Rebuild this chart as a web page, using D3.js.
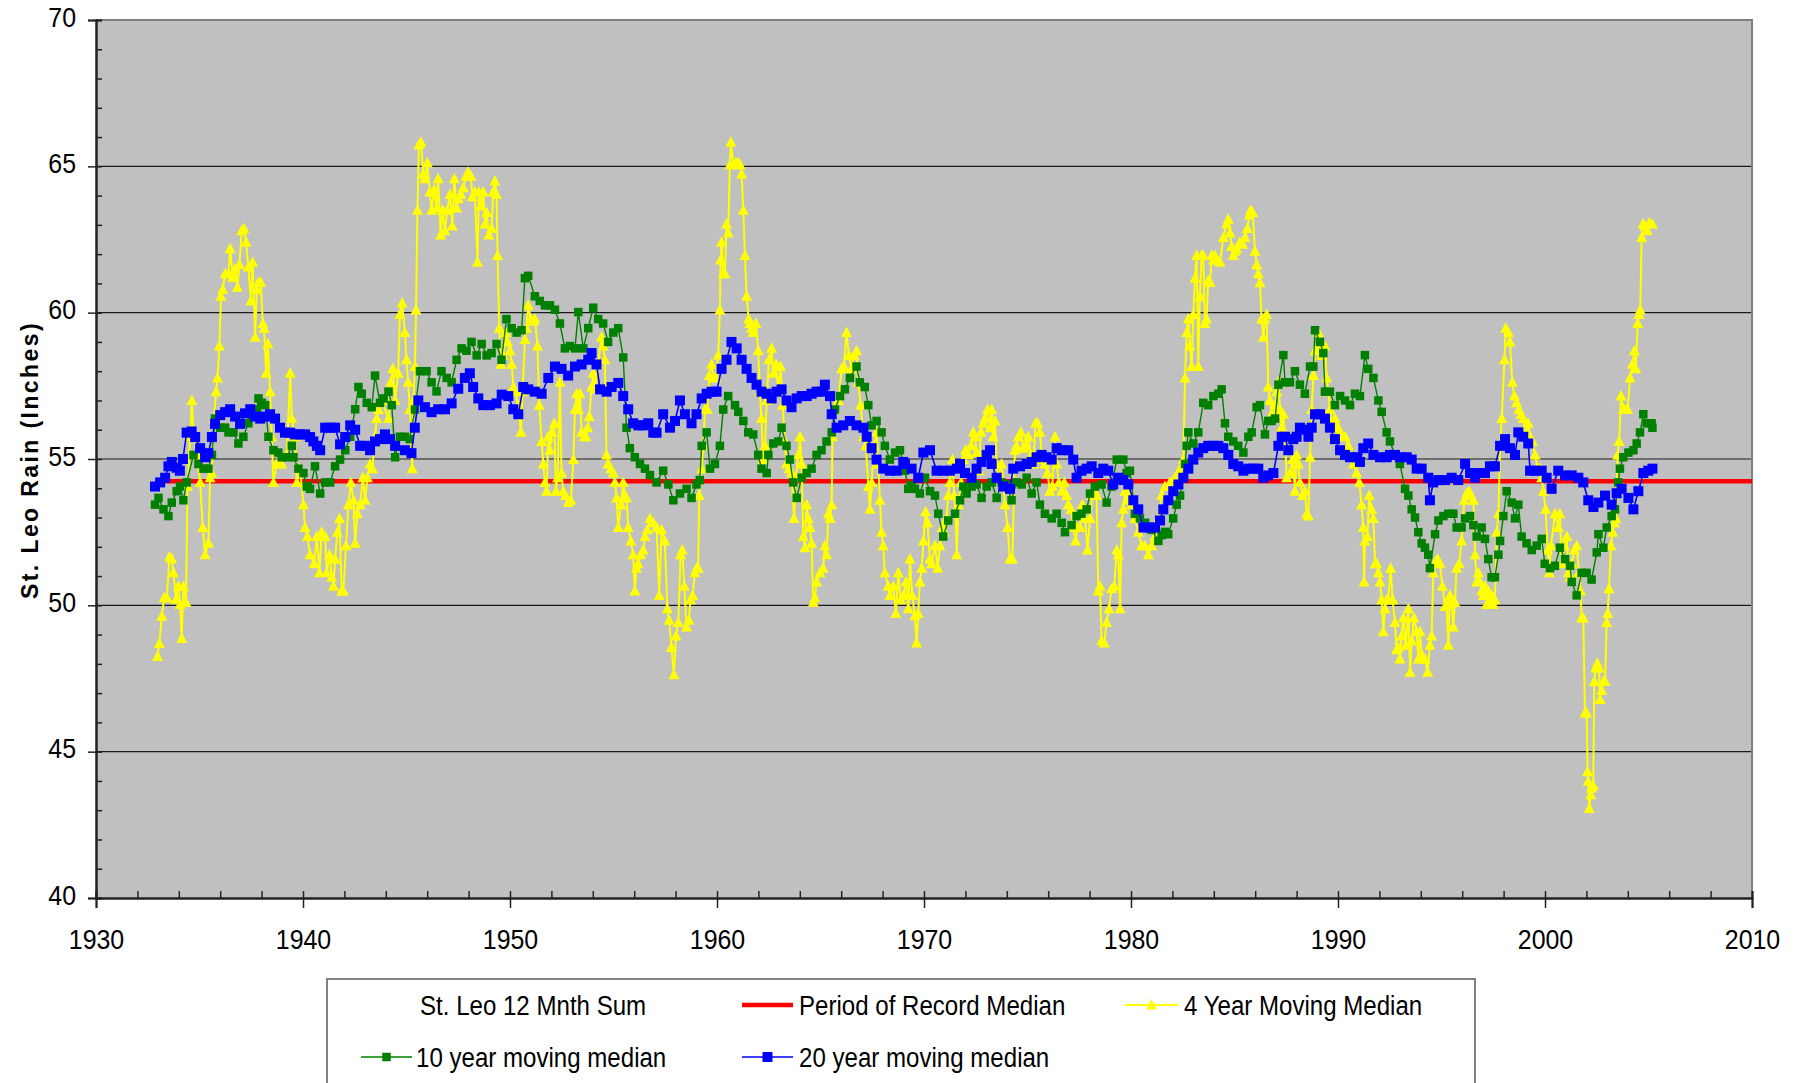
<!DOCTYPE html>
<html>
<head>
<meta charset="utf-8">
<script src="https://cdn.jsdelivr.net/npm/d3@7"></script>
<style>
  html, body { margin: 0; padding: 0; background: #ffffff; }
  svg { display: block; }
  .lbl { font-family: "Liberation Sans Narrow", "Arial Narrow", "Liberation Sans", Arial, sans-serif; fill: #000; }
</style>
</head>
<body>
<svg id="chart" width="1797" height="1083"></svg>
<script>
// ---- data -------------------------------------------------------------
const yearTicks = [1930, 1940, 1950, 1960, 1970, 1980, 1990, 2000, 2010];
const rainTicks = [40, 45, 50, 55, 60, 65, 70];
const yTitle = "St. Leo Rain  (Inches)";

// Period of record median of the 12-month rainfall sum
const recordMedian = 54.24;
const recordSpan = [1932.85, 2010];

// 4 year moving median  [year, inches]
const fourYear = [
[1932.97,48.25],[1933.06,48.7],[1933.18,49.63],[1933.29,50.26],[1933.42,50.26],[1933.55,51.66],[1933.66,51.58],[1933.74,51.11],[1933.87,50.2],[1933.98,50.65],[1934.06,50.03],[1934.14,48.87],[1934.22,50.65],[1934.35,50.1],[1934.42,54.06],[1934.55,55.76],[1934.63,57.0],[1934.71,55.9],[1934.87,55.14],[1935.03,54.2],[1935.16,52.66],[1935.27,51.73],[1935.43,52.12],[1935.51,54.36],[1935.59,54.52],[1935.7,56.38],[1935.8,57.3],[1935.87,57.77],[1935.96,58.86],[1936.04,60.56],[1936.12,60.79],[1936.24,61.33],[1936.4,61.33],[1936.48,62.18],[1936.61,61.2],[1936.72,61.49],[1936.83,60.87],[1936.93,61.65],[1937.04,62.8],[1937.15,62.88],[1937.25,62.41],[1937.36,61.56],[1937.48,60.4],[1937.57,61.72],[1937.69,59.16],[1937.77,60.79],[1937.85,61.03],[1937.96,61.03],[1938.06,59.63],[1938.12,59.47],[1938.22,57.93],[1938.3,58.94],[1938.41,57.3],[1938.49,55.76],[1938.57,54.2],[1938.73,54.83],[1938.97,54.83],[1939.22,55.14],[1939.38,57.93],[1939.46,56.38],[1939.62,55.76],[1939.7,54.2],[1939.86,54.67],[1940.02,53.44],[1940.1,52.66],[1940.21,52.35],[1940.34,51.73],[1940.54,51.42],[1940.67,52.35],[1940.79,51.11],[1940.9,52.5],[1941.07,52.35],[1941.15,51.11],[1941.28,51.73],[1941.39,50.96],[1941.47,50.65],[1941.55,51.58],[1941.66,52.5],[1941.76,52.97],[1941.87,50.49],[1941.95,50.49],[1942.08,52.04],[1942.19,53.44],[1942.31,54.2],[1942.44,53.59],[1942.52,52.12],[1942.63,53.13],[1942.76,53.44],[1942.89,54.36],[1943.0,53.59],[1943.11,54.36],[1943.24,54.83],[1943.35,54.67],[1943.48,55.76],[1943.56,56.38],[1943.64,56.69],[1943.8,57.0],[1944.13,56.38],[1944.24,57.62],[1944.34,58.08],[1944.45,57.0],[1944.6,57.93],[1944.68,59.94],[1944.79,60.33],[1944.92,59.32],[1945.0,58.39],[1945.08,57.62],[1945.16,56.69],[1945.28,54.67],[1945.33,57.0],[1945.41,58.16],[1945.46,60.09],[1945.53,63.5],[1945.6,65.74],[1945.7,65.82],[1945.81,64.74],[1945.89,64.58],[1946.0,65.12],[1946.13,64.12],[1946.21,63.5],[1946.34,64.2],[1946.45,63.58],[1946.53,64.58],[1946.65,62.65],[1946.74,63.5],[1946.86,62.8],[1946.97,63.5],[1947.1,64.04],[1947.21,62.96],[1947.31,64.58],[1947.42,63.58],[1947.5,63.89],[1947.63,64.04],[1947.74,64.27],[1947.87,64.66],[1947.98,64.81],[1948.11,64.66],[1948.18,63.96],[1948.3,64.12],[1948.43,61.72],[1948.5,64.12],[1948.59,63.65],[1948.71,64.12],[1948.79,63.03],[1948.87,63.42],[1948.98,62.65],[1949.11,62.88],[1949.19,64.12],[1949.27,64.5],[1949.35,64.04],[1949.4,61.95],[1949.48,59.47],[1949.56,58.24],[1949.67,58.54],[1949.79,59.32],[1949.88,59.0],[1950.0,58.7],[1950.08,58.24],[1950.16,57.46],[1950.24,57.3],[1950.4,56.84],[1950.53,55.91],[1950.61,57.3],[1950.72,59.08],[1950.8,59.47],[1950.88,60.25],[1951.01,59.78],[1951.12,59.71],[1951.2,59.78],[1951.33,58.86],[1951.41,56.84],[1951.53,55.6],[1951.61,54.83],[1951.69,54.2],[1951.77,53.9],[1951.85,55.76],[1951.93,55.3],[1952.01,55.91],[1952.14,56.22],[1952.22,53.9],[1952.3,54.36],[1952.41,57.62],[1952.49,54.52],[1952.57,53.9],[1952.68,53.75],[1952.81,53.51],[1952.94,53.59],[1953.06,54.98],[1953.14,56.69],[1953.22,57.23],[1953.3,56.69],[1953.38,57.23],[1953.46,55.91],[1953.59,55.76],[1953.67,55.76],[1953.75,56.07],[1953.83,56.45],[1953.94,57.46],[1954.02,57.93],[1954.1,57.38],[1954.26,58.24],[1954.42,59.16],[1954.5,58.86],[1954.58,58.39],[1954.66,55.14],[1954.74,54.83],[1954.87,54.67],[1954.99,54.52],[1955.07,54.2],[1955.15,53.67],[1955.23,52.66],[1955.36,53.44],[1955.47,54.2],[1955.55,53.75],[1955.63,53.67],[1955.71,52.66],[1955.84,52.2],[1955.95,51.73],[1956.03,50.49],[1956.11,51.27],[1956.19,51.42],[1956.32,51.73],[1956.44,51.89],[1956.52,52.35],[1956.63,52.58],[1956.76,52.97],[1956.92,52.82],[1957.08,52.66],[1957.21,50.34],[1957.32,52.58],[1957.48,52.2],[1957.6,49.88],[1957.69,49.49],[1957.8,48.56],[1957.92,47.63],[1958.02,48.95],[1958.13,49.41],[1958.24,51.73],[1958.32,51.89],[1958.42,50.65],[1958.53,49.26],[1958.64,49.49],[1958.72,50.19],[1958.82,50.34],[1958.93,51.11],[1959.01,51.27],[1959.09,51.27],[1959.14,53.75],[1959.26,54.67],[1959.34,55.45],[1959.42,56.69],[1959.53,56.69],[1959.63,57.85],[1959.74,58.24],[1959.85,57.77],[1959.95,57.77],[1960.06,58.55],[1960.14,60.09],[1960.17,61.8],[1960.22,62.41],[1960.3,61.33],[1960.38,61.33],[1960.46,63.03],[1960.54,62.72],[1960.62,65.05],[1960.67,65.82],[1960.79,65.05],[1960.91,65.12],[1961.03,65.12],[1961.11,65.05],[1961.19,64.74],[1961.27,63.5],[1961.35,61.95],[1961.43,60.56],[1961.53,59.78],[1961.59,59.63],[1961.67,59.47],[1961.75,59.32],[1961.88,59.63],[1961.99,58.7],[1962.07,57.3],[1962.15,56.38],[1962.23,54.98],[1962.32,55.45],[1962.4,57.0],[1962.51,58.39],[1962.64,58.78],[1962.72,57.93],[1962.85,58.24],[1962.96,57.3],[1963.07,58.16],[1963.17,56.84],[1963.28,55.6],[1963.36,54.83],[1963.49,54.67],[1963.6,54.52],[1963.72,52.97],[1963.81,54.36],[1963.93,55.14],[1964.01,55.76],[1964.09,54.83],[1964.17,52.35],[1964.25,51.97],[1964.33,53.44],[1964.41,52.97],[1964.49,52.66],[1964.57,52.12],[1964.65,50.1],[1964.73,50.26],[1964.81,50.8],[1964.97,51.11],[1965.13,51.27],[1965.21,52.04],[1965.3,51.73],[1965.38,53.13],[1965.46,52.97],[1965.54,53.44],[1965.58,55.76],[1965.7,56.69],[1965.86,57.0],[1966.02,58.08],[1966.13,58.16],[1966.26,59.32],[1966.37,58.54],[1966.5,58.08],[1966.62,58.54],[1966.74,58.7],[1966.82,57.62],[1966.94,56.84],[1967.07,55.76],[1967.19,55.45],[1967.31,54.06],[1967.39,53.28],[1967.47,54.2],[1967.58,55.45],[1967.71,55.91],[1967.79,54.83],[1967.87,53.59],[1967.95,52.5],[1968.03,52.04],[1968.11,51.11],[1968.27,50.65],[1968.35,50.34],[1968.52,50.65],[1968.64,49.72],[1968.76,51.11],[1968.87,50.19],[1969.0,50.34],[1969.13,50.8],[1969.24,49.88],[1969.32,51.58],[1969.43,50.34],[1969.56,49.64],[1969.64,48.71],[1969.72,49.72],[1969.8,50.8],[1969.89,51.27],[1969.97,52.2],[1970.08,53.2],[1970.17,52.82],[1970.29,51.58],[1970.37,51.42],[1970.53,52.04],[1970.66,51.27],[1970.77,52.04],[1970.88,52.66],[1970.98,52.5],[1971.09,52.97],[1971.17,53.75],[1971.25,54.2],[1971.37,54.98],[1971.46,53.75],[1971.53,53.13],[1971.58,51.73],[1971.66,53.44],[1971.79,54.2],[1971.9,54.98],[1972.01,55.3],[1972.14,55.14],[1972.27,55.45],[1972.38,55.91],[1972.46,55.76],[1972.54,55.22],[1972.65,54.6],[1972.75,55.91],[1972.86,56.22],[1972.94,56.38],[1973.07,56.69],[1973.19,56.07],[1973.27,56.69],[1973.35,55.76],[1973.43,56.3],[1973.51,54.83],[1973.59,54.36],[1973.75,54.83],[1973.83,54.2],[1973.91,53.44],[1974.04,52.66],[1974.15,51.58],[1974.27,51.58],[1974.39,55.3],[1974.47,55.45],[1974.56,55.76],[1974.68,55.91],[1974.8,55.37],[1974.91,55.45],[1975.04,55.76],[1975.17,55.14],[1975.28,54.83],[1975.39,56.22],[1975.49,56.22],[1975.6,55.91],[1975.71,54.98],[1975.84,54.83],[1975.97,54.52],[1976.08,53.9],[1976.2,54.06],[1976.33,55.76],[1976.41,54.83],[1976.52,54.2],[1976.65,53.9],[1976.78,54.2],[1976.89,53.75],[1976.97,53.44],[1977.1,53.28],[1977.21,52.66],[1977.32,52.2],[1977.42,52.66],[1977.53,52.66],[1977.65,53.44],[1977.78,52.97],[1977.9,51.89],[1978.02,52.97],[1978.13,53.75],[1978.26,53.9],[1978.34,53.75],[1978.42,50.49],[1978.5,50.65],[1978.58,48.79],[1978.71,48.71],[1978.82,49.41],[1978.94,49.88],[1979.06,50.57],[1979.19,50.65],[1979.31,51.89],[1979.39,51.73],[1979.47,49.88],[1979.55,52.82],[1979.63,53.28],[1979.71,53.9],[1979.79,53.59],[1979.87,53.9],[1980.03,53.44],[1980.19,52.97],[1980.35,52.5],[1980.51,52.04],[1980.67,52.04],[1980.84,51.73],[1981.0,52.04],[1981.16,52.35],[1981.32,52.97],[1981.48,53.75],[1981.64,54.06],[1981.88,54.2],[1982.12,54.36],[1982.37,54.67],[1982.53,54.98],[1982.61,57.77],[1982.69,59.32],[1982.77,59.78],[1982.85,58.86],[1982.93,58.16],[1983.01,59.94],[1983.09,61.18],[1983.17,61.95],[1983.25,58.16],[1983.33,60.56],[1983.41,61.95],[1983.49,61.95],[1983.57,59.63],[1983.65,59.78],[1983.73,61.1],[1983.82,61.03],[1983.9,61.95],[1983.98,61.8],[1984.06,61.95],[1984.14,61.8],[1984.3,61.72],[1984.46,62.57],[1984.62,63.03],[1984.7,63.19],[1984.78,62.72],[1984.86,62.26],[1984.94,61.95],[1985.02,62.1],[1985.1,62.18],[1985.26,62.41],[1985.39,62.34],[1985.51,62.57],[1985.62,62.88],[1985.72,63.34],[1985.78,63.5],[1985.88,63.42],[1985.99,62.1],[1986.07,61.64],[1986.15,61.33],[1986.23,61.02],[1986.31,59.78],[1986.39,59.16],[1986.47,59.78],[1986.55,59.94],[1986.63,57.46],[1986.71,57.0],[1986.79,56.53],[1986.88,56.38],[1986.96,56.84],[1987.04,57.3],[1987.12,57.62],[1987.2,56.69],[1987.28,56.07],[1987.36,56.53],[1987.44,55.76],[1987.52,54.36],[1987.68,54.52],[1987.81,54.98],[1987.92,53.9],[1988.0,55.14],[1988.08,54.83],[1988.16,54.2],[1988.29,53.75],[1988.4,53.9],[1988.49,53.13],[1988.57,53.05],[1988.65,55.06],[1988.73,56.69],[1988.81,57.85],[1988.89,58.7],[1988.97,58.78],[1989.05,59.32],[1989.13,59.0],[1989.21,58.54],[1989.37,58.86],[1989.45,57.77],[1989.53,57.3],[1989.61,56.69],[1989.69,56.07],[1989.77,55.76],[1989.85,56.38],[1989.93,56.07],[1990.01,56.07],[1990.1,55.91],[1990.18,55.76],[1990.34,55.76],[1990.5,55.45],[1990.58,55.14],[1990.74,54.83],[1990.9,54.52],[1991.03,54.2],[1991.14,53.44],[1991.22,52.66],[1991.26,50.8],[1991.3,52.2],[1991.42,52.35],[1991.51,53.75],[1991.62,53.28],[1991.71,52.97],[1991.79,51.42],[1991.87,51.42],[1991.95,51.11],[1992.03,50.8],[1992.11,50.19],[1992.19,49.1],[1992.27,49.88],[1992.35,50.19],[1992.43,50.19],[1992.54,51.27],[1992.64,50.19],[1992.75,49.41],[1992.83,48.48],[1992.91,48.56],[1992.99,48.17],[1993.07,48.95],[1993.16,49.57],[1993.28,48.64],[1993.4,49.88],[1993.48,47.71],[1993.56,48.79],[1993.67,49.57],[1993.8,49.1],[1993.88,48.17],[1993.96,49.1],[1994.04,48.33],[1994.12,48.17],[1994.2,48.17],[1994.33,47.71],[1994.44,48.64],[1994.52,48.95],[1994.61,51.11],[1994.72,51.5],[1994.81,51.58],[1994.93,51.42],[1995.04,50.65],[1995.17,49.96],[1995.25,50.03],[1995.33,48.64],[1995.41,50.34],[1995.49,50.19],[1995.57,49.26],[1995.65,50.1],[1995.73,51.27],[1995.85,51.42],[1995.97,52.2],[1996.1,53.59],[1996.22,53.83],[1996.33,53.9],[1996.43,53.75],[1996.54,53.59],[1996.62,51.73],[1996.7,50.8],[1996.78,51.11],[1996.86,50.8],[1996.94,50.49],[1997.02,50.34],[1997.1,50.65],[1997.18,50.03],[1997.26,50.49],[1997.34,50.19],[1997.42,50.34],[1997.5,50.03],[1997.58,50.19],[1997.67,52.5],[1997.75,53.13],[1997.83,55.45],[1997.91,56.38],[1998.04,58.39],[1998.1,59.47],[1998.23,59.32],[1998.31,59.0],[1998.42,57.62],[1998.52,57.15],[1998.63,56.92],[1998.74,56.69],[1998.84,56.53],[1998.95,56.38],[1999.07,55.76],[1999.19,56.22],[1999.28,55.76],[1999.39,55.6],[1999.52,55.14],[1999.65,54.67],[1999.76,54.67],[1999.84,54.36],[1999.92,53.9],[2000.03,53.28],[2000.13,51.89],[2000.21,51.11],[2000.29,52.04],[2000.48,53.13],[2000.64,52.66],[2000.72,53.13],[2000.8,51.42],[2000.93,52.04],[2001.05,52.35],[2001.13,51.11],[2001.21,50.96],[2001.29,51.42],[2001.42,51.89],[2001.53,52.04],[2001.64,51.11],[2001.72,50.49],[2001.77,49.57],[2001.85,49.57],[2001.93,46.32],[2002.01,46.32],[2002.06,44.31],[2002.09,43.99],[2002.14,43.06],[2002.21,43.53],[2002.25,43.76],[2002.33,43.84],[2002.38,47.4],[2002.45,47.86],[2002.53,48.02],[2002.61,47.86],[2002.66,46.78],[2002.74,47.09],[2002.82,47.4],[2002.9,47.4],[2002.98,49.41],[2003.03,49.72],[2003.09,50.57],[2003.19,52.04],[2003.27,52.5],[2003.35,52.82],[2003.43,52.97],[2003.51,55.14],[2003.58,55.6],[2003.67,57.15],[2003.79,56.69],[2003.9,56.69],[2003.99,56.69],[2004.11,57.77],[2004.22,58.24],[2004.32,58.7],[2004.38,58.08],[2004.48,59.63],[2004.54,59.94],[2004.6,60.09],[2004.67,62.57],[2004.73,63.03],[2004.83,62.96],[2004.94,62.8],[2005.04,63.06],[2005.19,63.03]
];

// 10 year moving median  [year, inches]
const tenYear = [
[1932.85,53.44],[1933.02,53.67],[1933.26,53.28],[1933.5,53.05],[1933.66,53.51],[1933.9,53.9],[1934.06,54.06],[1934.22,53.59],[1934.38,54.2],[1934.71,55.14],[1934.95,54.83],[1935.19,54.67],[1935.43,54.67],[1935.6,55.14],[1935.75,56.38],[1936.0,56.07],[1936.24,56.07],[1936.4,55.91],[1936.64,55.91],[1936.88,55.53],[1937.12,55.76],[1937.36,56.22],[1937.53,56.45],[1937.77,56.7],[1937.85,57.07],[1938.01,56.92],[1938.17,56.84],[1938.33,55.76],[1938.57,55.3],[1938.81,55.22],[1938.97,55.06],[1939.22,55.06],[1939.46,55.45],[1939.54,55.06],[1939.78,54.67],[1940.02,54.52],[1940.18,54.06],[1940.34,53.98],[1940.58,54.75],[1940.83,53.82],[1941.07,54.2],[1941.31,54.2],[1941.55,54.75],[1941.79,54.98],[1942.04,55.3],[1942.28,55.76],[1942.52,56.7],[1942.68,57.46],[1942.84,57.23],[1943.08,56.92],[1943.32,56.77],[1943.48,57.85],[1943.72,56.92],[1943.89,57.07],[1944.13,57.3],[1944.29,56.84],[1944.45,55.06],[1944.68,55.76],[1944.92,55.76],[1945.16,55.68],[1945.41,56.69],[1945.65,58.0],[1945.97,58.0],[1946.21,57.62],[1946.45,57.31],[1946.69,58.0],[1946.94,57.77],[1947.18,57.62],[1947.42,58.39],[1947.66,58.78],[1947.9,58.7],[1948.14,59.0],[1948.39,58.54],[1948.63,58.93],[1948.87,58.54],[1949.11,58.62],[1949.35,58.93],[1949.59,58.39],[1949.83,59.78],[1950.08,59.47],[1950.32,59.32],[1950.56,59.4],[1950.72,61.18],[1950.88,61.26],[1951.2,60.56],[1951.44,60.4],[1951.69,60.25],[1951.93,60.25],[1952.17,60.1],[1952.41,59.63],[1952.65,58.78],[1952.89,58.86],[1953.14,58.78],[1953.3,60.02],[1953.54,58.78],[1953.78,59.47],[1954.02,60.17],[1954.26,59.78],[1954.5,59.63],[1954.74,59.0],[1954.99,59.32],[1955.23,59.47],[1955.47,58.47],[1955.63,56.07],[1955.79,55.37],[1956.03,55.06],[1956.28,54.83],[1956.52,54.67],[1956.76,54.45],[1957.08,54.2],[1957.4,54.6],[1957.65,54.13],[1957.89,53.59],[1958.21,53.82],[1958.53,53.98],[1958.77,53.67],[1959.01,54.13],[1959.17,54.28],[1959.26,55.45],[1959.5,55.91],[1959.66,54.67],[1959.9,54.83],[1960.14,55.45],[1960.3,56.69],[1960.54,57.15],[1960.87,56.84],[1961.03,56.61],[1961.27,56.3],[1961.51,55.91],[1961.75,55.84],[1961.99,55.14],[1962.15,54.67],[1962.4,54.52],[1962.48,55.14],[1962.72,55.53],[1962.96,55.6],[1963.12,56.07],[1963.36,55.45],[1963.52,54.98],[1963.68,54.2],[1963.85,53.67],[1964.09,54.36],[1964.33,54.52],[1964.57,54.67],[1964.81,55.14],[1965.05,55.3],[1965.29,55.6],[1965.54,55.91],[1965.7,56.69],[1965.94,57.15],[1966.18,57.38],[1966.42,57.77],[1966.74,58.16],[1966.9,57.62],[1967.14,57.46],[1967.31,56.84],[1967.47,56.15],[1967.71,56.3],[1967.95,55.91],[1968.11,55.45],[1968.35,54.98],[1968.6,55.22],[1968.84,55.3],[1969.08,54.6],[1969.24,53.98],[1969.4,54.1],[1969.56,53.98],[1969.8,53.82],[1970.05,54.36],[1970.29,53.9],[1970.53,53.75],[1970.69,53.13],[1970.93,52.35],[1971.17,52.9],[1971.5,53.13],[1971.74,53.59],[1971.9,54.06],[1972.06,53.82],[1972.3,54.06],[1972.54,54.13],[1972.78,53.67],[1973.03,54.06],[1973.27,54.2],[1973.51,53.67],[1973.75,54.2],[1973.99,54.13],[1974.23,53.59],[1974.47,54.2],[1974.72,54.13],[1974.96,54.36],[1975.2,53.82],[1975.44,54.2],[1975.6,53.44],[1975.84,53.13],[1976.17,52.97],[1976.41,53.13],[1976.65,52.82],[1976.81,52.5],[1977.13,52.74],[1977.37,53.05],[1977.61,53.13],[1977.86,53.28],[1978.02,53.82],[1978.26,54.06],[1978.58,54.13],[1978.82,53.51],[1979.06,54.06],[1979.31,54.98],[1979.63,54.98],[1979.79,54.52],[1979.95,54.6],[1980.19,53.13],[1980.43,52.97],[1980.68,52.82],[1981.0,52.58],[1981.32,52.2],[1981.48,52.4],[1981.64,52.51],[1981.8,52.43],[1982.04,52.97],[1982.21,53.44],[1982.37,53.75],[1982.61,54.83],[1982.69,55.45],[1982.77,55.91],[1983.01,55.53],[1983.25,55.91],[1983.49,56.92],[1983.73,56.84],[1983.98,57.15],[1984.22,57.23],[1984.38,57.38],[1984.54,56.22],[1984.7,55.76],[1984.94,55.6],[1985.18,55.45],[1985.43,55.22],[1985.67,55.76],[1985.83,55.91],[1986.07,56.77],[1986.23,56.84],[1986.47,55.84],[1986.63,56.3],[1986.79,56.3],[1986.96,56.38],[1987.12,57.54],[1987.36,58.55],[1987.44,57.62],[1987.68,57.62],[1987.92,58.0],[1988.16,57.54],[1988.4,57.23],[1988.65,58.16],[1988.81,58.16],[1988.89,59.4],[1989.13,59.0],[1989.29,58.62],[1989.37,57.3],[1989.61,57.3],[1989.85,56.84],[1990.1,57.15],[1990.34,57.0],[1990.58,56.84],[1990.82,57.23],[1991.06,57.15],[1991.3,58.55],[1991.46,58.08],[1991.71,57.77],[1991.95,57.0],[1992.11,56.61],[1992.35,55.91],[1992.51,55.6],[1992.75,55.14],[1992.99,54.83],[1993.24,53.98],[1993.4,53.75],[1993.56,53.28],[1993.72,53.0],[1993.88,52.5],[1994.04,52.12],[1994.2,51.97],[1994.36,51.73],[1994.44,51.27],[1994.69,52.43],[1994.85,52.9],[1995.09,53.05],[1995.33,53.13],[1995.57,53.13],[1995.73,52.66],[1995.97,52.66],[1996.14,52.97],[1996.38,53.05],[1996.54,52.74],[1996.7,52.35],[1996.94,52.66],[1997.1,52.27],[1997.26,51.58],[1997.42,50.96],[1997.58,50.96],[1997.75,51.73],[1997.83,52.2],[1997.99,53.05],[1998.15,53.9],[1998.39,53.51],[1998.55,52.97],[1998.71,53.44],[1998.87,52.35],[1999.11,52.12],[1999.36,51.89],[1999.6,52.04],[1999.84,52.27],[1999.99,51.42],[2000.24,51.27],[2000.48,51.35],[2000.72,51.97],[2000.97,51.58],[2001.21,51.35],[2001.29,50.8],[2001.53,50.34],[2001.77,51.11],[2002.01,51.11],[2002.25,50.88],[2002.5,51.81],[2002.58,52.43],[2002.82,51.97],[2002.98,52.66],[2003.22,53.05],[2003.38,53.28],[2003.54,54.2],[2003.62,54.67],[2003.78,55.06],[2004.03,55.22],[2004.27,55.3],[2004.43,55.53],[2004.59,55.91],[2004.75,56.53],[2004.91,56.22],[2005.15,56.22],[2005.19,56.07]
];

// 20 year moving median  [year, inches]
const twentyYear = [
[1932.85,54.06],[1933.1,54.2],[1933.34,54.36],[1933.5,54.75],[1933.66,54.9],[1933.9,54.7],[1934.05,54.6],[1934.2,55.0],[1934.38,55.9],[1934.62,55.94],[1934.79,55.75],[1935.03,55.37],[1935.27,55.06],[1935.43,55.2],[1935.6,55.75],[1935.75,56.2],[1936.0,56.5],[1936.24,56.6],[1936.48,56.7],[1936.72,56.45],[1936.96,56.2],[1937.2,56.56],[1937.45,56.7],[1937.69,56.45],[1937.93,56.38],[1938.17,56.45],[1938.41,56.53],[1938.65,56.38],[1938.89,56.07],[1939.13,55.9],[1939.38,55.9],[1939.62,55.84],[1939.86,55.84],[1940.1,55.84],[1940.34,55.75],[1940.5,55.6],[1940.67,55.45],[1940.83,55.3],[1941.07,56.07],[1941.31,56.07],[1941.55,56.07],[1941.79,55.5],[1942.04,55.75],[1942.28,56.15],[1942.52,56.0],[1942.76,55.45],[1943.0,55.45],[1943.24,55.3],[1943.48,55.6],[1943.72,55.68],[1943.96,55.84],[1944.2,55.68],[1944.45,55.45],[1944.92,55.3],[1945.24,55.2],[1945.4,56.07],[1945.57,57.0],[1945.89,56.77],[1946.21,56.6],[1946.53,56.7],[1946.86,56.7],[1947.18,56.9],[1947.5,57.4],[1947.82,57.77],[1948.06,57.93],[1948.22,57.46],[1948.47,57.07],[1948.71,56.84],[1949.03,56.84],[1949.35,56.9],[1949.6,57.2],[1949.92,57.15],[1950.16,56.7],[1950.4,56.53],[1950.64,57.46],[1950.88,57.38],[1951.2,57.3],[1951.53,57.23],[1951.85,57.77],[1952.17,58.16],[1952.49,58.08],[1952.81,57.85],[1953.14,58.16],[1953.46,58.23],[1953.78,58.39],[1953.94,58.62],[1954.18,58.23],[1954.35,57.38],[1954.67,57.3],[1954.91,57.46],[1955.23,57.6],[1955.47,57.15],[1955.71,56.7],[1955.95,56.22],[1956.2,56.15],[1956.44,56.15],[1956.68,56.22],[1956.92,55.9],[1957.08,55.9],[1957.4,56.53],[1957.73,56.07],[1957.97,56.3],[1958.21,57.0],[1958.45,56.53],[1958.77,56.22],[1959.01,56.53],[1959.26,57.07],[1959.5,57.23],[1959.74,57.3],[1959.98,57.3],[1960.22,58.08],[1960.46,58.39],[1960.7,59.0],[1960.95,58.78],[1961.19,58.39],[1961.43,58.08],[1961.67,57.77],[1961.91,57.54],[1962.15,57.3],[1962.4,57.23],[1962.64,57.07],[1962.88,57.3],[1963.12,57.38],[1963.36,57.0],[1963.6,56.77],[1963.85,57.07],[1964.09,57.15],[1964.33,57.15],[1964.57,57.23],[1964.81,57.3],[1965.05,57.3],[1965.21,57.54],[1965.46,57.15],[1965.54,56.53],[1965.78,56.07],[1966.1,56.15],[1966.42,56.3],[1966.74,56.15],[1967.07,56.07],[1967.23,55.76],[1967.47,55.37],[1967.71,54.98],[1968.03,54.67],[1968.35,54.6],[1968.68,54.6],[1969.0,54.9],[1969.08,54.83],[1969.4,54.67],[1969.72,54.36],[1969.97,55.22],[1970.29,55.3],[1970.61,54.6],[1970.93,54.6],[1971.25,54.6],[1971.58,54.67],[1971.74,54.83],[1971.98,54.52],[1972.3,54.36],[1972.54,54.67],[1972.78,54.9],[1973.03,55.14],[1973.19,55.3],[1973.27,54.83],[1973.51,54.36],[1973.83,54.06],[1974.15,53.98],[1974.31,54.67],[1974.64,54.75],[1974.96,54.83],[1975.2,54.9],[1975.44,55.06],[1975.68,55.14],[1975.92,55.06],[1976.17,54.98],[1976.41,55.37],[1976.65,55.3],[1976.97,55.3],[1977.21,54.98],[1977.37,54.36],[1977.61,54.6],[1977.86,54.67],[1978.1,54.75],[1978.42,54.52],[1978.66,54.67],[1978.9,54.6],[1979.14,54.13],[1979.39,54.36],[1979.63,54.28],[1979.87,54.13],[1980.11,53.59],[1980.35,53.28],[1980.6,52.66],[1980.92,52.66],[1981.16,52.66],[1981.4,52.9],[1981.56,53.28],[1981.8,53.59],[1982.04,53.9],[1982.29,54.13],[1982.53,54.36],[1982.77,54.67],[1983.01,54.98],[1983.25,55.22],[1983.49,55.37],[1983.73,55.45],[1983.98,55.45],[1984.22,55.45],[1984.46,55.37],[1984.7,55.14],[1984.94,54.83],[1985.18,54.75],[1985.43,54.6],[1985.67,54.67],[1985.91,54.67],[1986.15,54.67],[1986.39,54.36],[1986.63,54.44],[1986.88,54.52],[1987.12,55.45],[1987.28,55.76],[1987.44,55.76],[1987.6,55.3],[1987.84,55.68],[1988.0,55.76],[1988.16,56.07],[1988.4,56.0],[1988.57,55.76],[1988.73,56.07],[1988.89,56.53],[1989.13,56.53],[1989.37,56.38],[1989.61,56.07],[1989.85,55.68],[1990.1,55.3],[1990.34,55.14],[1990.58,55.06],[1990.9,55.06],[1991.06,54.9],[1991.22,55.37],[1991.46,55.53],[1991.71,55.14],[1992.03,55.06],[1992.35,55.06],[1992.51,55.14],[1992.75,55.14],[1992.99,55.06],[1993.32,55.06],[1993.56,54.98],[1993.8,54.67],[1994.04,54.67],[1994.36,54.36],[1994.44,53.59],[1994.6,54.2],[1994.85,54.28],[1995.17,54.28],[1995.49,54.36],[1995.81,54.28],[1996.14,54.83],[1996.38,54.52],[1996.62,54.36],[1996.86,54.52],[1997.1,54.52],[1997.34,54.75],[1997.58,54.75],[1997.83,55.45],[1998.07,55.68],[1998.31,55.37],[1998.55,55.14],[1998.71,55.91],[1998.95,55.76],[1999.19,55.53],[1999.28,54.6],[1999.52,54.6],[1999.84,54.6],[2000.08,54.36],[2000.32,53.98],[2000.64,54.6],[2000.97,54.44],[2001.29,54.44],[2001.61,54.36],[2001.85,54.2],[2002.09,53.59],[2002.34,53.36],[2002.58,53.51],[2002.9,53.75],[2003.22,53.44],[2003.46,53.83],[2003.7,53.98],[2004.03,53.67],[2004.27,53.28],[2004.51,53.9],[2004.75,54.52],[2004.99,54.6],[2005.19,54.67]
];

const legendRow1 = ["St. Leo 12 Mnth Sum", "Period of Record Median", "4 Year Moving Median"];
const legendRow2 = ["10 year moving median", "20 year moving median"];

// ---- layout -----------------------------------------------------------
const svg = d3.select("#chart");
const plot = { left: 96, right: 1752, top: 20, bottom: 898 };

const x = d3.scaleLinear().domain([1930, 2010]).range([plot.left, plot.right]);
const y = d3.scaleLinear().domain([40, 70]).range([plot.bottom, plot.top]);

const COLORS = { median: "#ff0000", four: "#ffff00", ten: "#008000", twenty: "#0000ff" };
const triPath = "M0,-6L5.5,4.5L-5.5,4.5Z";

// condensed label look: glyphs squeezed horizontally
const TICK_FONT = 28, TICK_SQUEEZE = 0.89;
const LEG_FONT = 28, LEG_SQUEEZE = 0.86;

// plot background
svg.append("rect")
  .attr("x", plot.left).attr("y", plot.top)
  .attr("width", plot.right - plot.left).attr("height", plot.bottom - plot.top)
  .attr("fill", "#c0c0c0");

// horizontal gridlines
svg.append("g").selectAll("line")
  .data(rainTicks.filter(v => v > 40 && v < 70))
  .join("line")
  .attr("x1", plot.left).attr("x2", plot.right)
  .attr("y1", d => y(d)).attr("y2", d => y(d))
  .attr("stroke", "#1a1a1a").attr("stroke-width", 1.2);

// top and right border of plot area
svg.append("path")
  .attr("d", `M${plot.left},${y(70)}H${plot.right}V${plot.bottom}`)
  .attr("fill", "none").attr("stroke", "#808080").attr("stroke-width", 2);

// ---- series -----------------------------------------------------------
const line = d3.line().x(d => x(d[0])).y(d => y(d[1]));

// period-of-record median
svg.append("path")
  .datum(recordSpan.map(t => [t, recordMedian]))
  .attr("d", line)
  .attr("fill", "none").attr("stroke", COLORS.median).attr("stroke-width", 4.5);

function drawSeries(data, color, width, marker, size) {
  const g = svg.append("g");
  g.append("path").datum(data).attr("d", line)
    .attr("fill", "none").attr("stroke", color).attr("stroke-width", width)
    .attr("stroke-linejoin", "round");
  if (marker === "tri") {
    g.selectAll("path.m").data(data).join("path").attr("class", "m")
      .attr("d", triPath)
      .attr("transform", d => `translate(${x(d[0])},${y(d[1])})`)
      .attr("fill", color);
  } else {
    g.selectAll("rect.m").data(data).join("rect").attr("class", "m")
      .attr("x", d => x(d[0]) - size / 2).attr("y", d => y(d[1]) - size / 2)
      .attr("width", size).attr("height", size)
      .attr("fill", color);
  }
}

drawSeries(fourYear, COLORS.four, 2, "tri");
drawSeries(tenYear, COLORS.ten, 1.4, "sq", 8.5);
drawSeries(twentyYear, COLORS.twenty, 1.6, "sq", 10);

// ---- axes -------------------------------------------------------------
const minorYears = d3.range(1930, 2011, 2);
const minorRain = d3.range(40, 71, 1);

const yMinor = svg.append("g").attr("transform", `translate(${plot.left},0)`)
  .call(d3.axisLeft(y).tickValues(minorRain).tickSize(-6).tickFormat(""));
const yMajor = svg.append("g").attr("transform", `translate(${plot.left},0)`)
  .call(d3.axisLeft(y).tickValues(rainTicks).tickSize(8).tickPadding(12).tickFormat(d3.format("d")));
const xMinor = svg.append("g").attr("transform", `translate(0,${plot.bottom})`)
  .call(d3.axisBottom(x).tickValues(minorYears).tickSize(-7).tickFormat(""));
const xMajor = svg.append("g").attr("transform", `translate(0,${plot.bottom})`)
  .call(d3.axisBottom(x).tickValues(yearTicks).tickSize(10).tickPadding(21).tickFormat(d3.format("d")));

[yMinor, yMajor, xMinor, xMajor].forEach(g => {
  g.select(".domain").attr("stroke", "#222").attr("stroke-width", 2);
  g.selectAll(".tick line").attr("stroke", "#222").attr("stroke-width", 1.5);
  g.selectAll(".tick text").attr("class", "lbl")
    .attr("font-size", TICK_FONT).attr("fill", "#000")
    .attr("transform", `scale(${TICK_SQUEEZE},1)`);
});
// keep the right edge of the value labels in place after squeezing
yMajor.selectAll(".tick text").attr("x", -20 / TICK_SQUEEZE).attr("dy", "0.22em");

// y-axis title
svg.append("text")
  .attr("transform", `translate(38,460) rotate(-90)`)
  .attr("text-anchor", "middle")
  .attr("font-family", "'Liberation Sans', Arial, sans-serif")
  .attr("font-weight", "bold")
  .attr("font-size", 23)
  .attr("letter-spacing", 2.4)
  .text(yTitle);

// ---- legend -----------------------------------------------------------
const legend = svg.append("g");
legend.append("rect")
  .attr("x", 327).attr("y", 979).attr("width", 1148).attr("height", 130)
  .attr("fill", "#fff").attr("stroke", "#808080").attr("stroke-width", 2);

const row1 = 1005, row2 = 1057;
const legendItems = [
  { label: legendRow1[0], tx: 420, ty: row1 },
  { label: legendRow1[1], tx: 799, ty: row1, sx: [742, 793], color: COLORS.median, w: 4.5 },
  { label: legendRow1[2], tx: 1184, ty: row1, sx: [1125, 1178], color: COLORS.four, w: 2, marker: "tri" },
  { label: legendRow2[0], tx: 416, ty: row2, sx: [361, 412], color: COLORS.ten, w: 1.4, marker: "sq", size: 8.5 },
  { label: legendRow2[1], tx: 799, ty: row2, sx: [742, 793], color: COLORS.twenty, w: 1.6, marker: "sq", size: 10 }
];

legendItems.forEach(it => {
  if (it.sx) {
    legend.append("line")
      .attr("x1", it.sx[0]).attr("x2", it.sx[1]).attr("y1", it.ty).attr("y2", it.ty)
      .attr("stroke", it.color).attr("stroke-width", it.w);
    const cx = (it.sx[0] + it.sx[1]) / 2;
    if (it.marker === "tri") {
      legend.append("path").attr("d", triPath)
        .attr("transform", `translate(${cx},${it.ty})`).attr("fill", it.color);
    } else if (it.marker === "sq") {
      legend.append("rect")
        .attr("x", cx - it.size / 2).attr("y", it.ty - it.size / 2)
        .attr("width", it.size).attr("height", it.size).attr("fill", it.color);
    }
  }
  legend.append("text").attr("class", "lbl")
    .attr("transform", `translate(${it.tx},${it.ty}) scale(${LEG_SQUEEZE},1)`)
    .attr("dy", "0.35em")
    .attr("font-size", LEG_FONT)
    .text(it.label);
});
</script>
</body>
</html>
